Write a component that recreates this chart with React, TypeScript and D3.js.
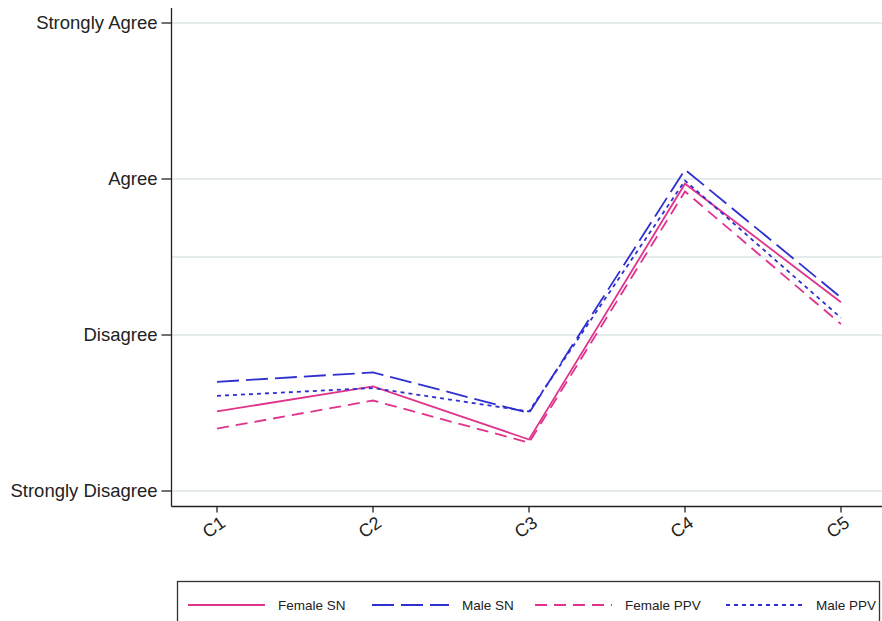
import React from "react";
import * as d3 from "d3";

const categories = ["C1", "C2", "C3", "C4", "C5"];
const yTickValues = [1, 2, 3, 4];
const yTickLabels = ["Strongly Disagree", "Disagree", "Agree", "Strongly Agree"];
const gridValues = [1, 2, 2.5, 3, 4];

const femaleSN = [1.51, 1.67, 1.33, 2.97, 2.21];
const maleSN = [1.70, 1.76, 1.50, 3.06, 2.24];
const femalePPV = [1.40, 1.58, 1.31, 2.92, 2.07];
const malePPV = [1.61, 1.66, 1.51, 2.99, 2.11];

const PINK = "#e0338c";
const BLUE = "#2f2fd0";

const series = [
  { name: "Female SN", values: femaleSN, color: PINK, dash: "" },
  { name: "Male SN", values: maleSN, color: BLUE, dash: "22,7" },
  { name: "Female PPV", values: femalePPV, color: PINK, dash: "12,7" },
  { name: "Male PPV", values: malePPV, color: BLUE, dash: "4,4" },
];

export default function App() {
  const W = 882;
  const H = 621;
  const axisX = 171.5;
  const axisY = 506.5;
  const x = d3.scalePoint<string>().domain(categories).range([217, 841]);
  const y = d3.scaleLinear().domain([1, 4]).range([491, 23]);
  const line = d3
    .line<number>()
    .x((_, i) => x(categories[i]) as number)
    .y((d) => y(d));

  const font = "Liberation Sans, Arial, Helvetica, sans-serif";
  const legendX = [188, 372, 535, 726];

  return (
    <svg
      width={W}
      height={H}
      style={{ position: "absolute", left: 0, top: 0, background: "#fff" }}
      fontFamily={font}
    >
      {gridValues.map((v) => (
        <line
          key={"g" + v}
          x1={axisX}
          x2={W}
          y1={y(v)}
          y2={y(v)}
          stroke="#dde4e4"
          strokeWidth={1.3}
        />
      ))}
      <line x1={axisX} x2={axisX} y1={8} y2={axisY} stroke="#222" strokeWidth={1.3} />
      <line x1={axisX} x2={W} y1={axisY} y2={axisY} stroke="#222" strokeWidth={1.3} />
      {yTickValues.map((v, i) => (
        <g key={"yt" + v}>
          <line x1={axisX - 10} x2={axisX} y1={y(v)} y2={y(v)} stroke="#222" strokeWidth={1.3} />
          <text
            x={axisX - 14}
            y={y(v)}
            dy="0.35em"
            textAnchor="end"
            fontSize={18.5}
            fill="#222"
          >
            {yTickLabels[i]}
          </text>
        </g>
      ))}
      {categories.map((c) => {
        const cx = x(c) as number;
        return (
          <g key={"xt" + c}>
            <line x1={cx} x2={cx} y1={axisY} y2={axisY + 6} stroke="#222" strokeWidth={1.3} />
            <text
              transform={`translate(${cx + 2},${axisY + 8}) rotate(-35)`}
              textAnchor="end"
              dy="0.75em"
              fontSize={18}
              fill="#222"
            >
              {c}
            </text>
          </g>
        );
      })}
      {series.map((s) => (
        <path
          key={s.name}
          d={line(s.values) as string}
          fill="none"
          stroke={s.color}
          strokeWidth={1.8}
          strokeDasharray={s.dash || undefined}
        />
      ))}
      <rect x={177.5} y={581.5} width={702} height={50} fill="#fff" stroke="#333" strokeWidth={1.3} />
      {series.map((s, i) => (
        <g key={"lg" + s.name}>
          <line
            x1={legendX[i]}
            x2={legendX[i] + 77}
            y1={605}
            y2={605}
            stroke={s.color}
            strokeWidth={1.8}
            strokeDasharray={s.dash || undefined}
          />
          <text x={legendX[i] + 90} y={605} dy="0.35em" fontSize={13.5} fill="#222">
            {s.name}
          </text>
        </g>
      ))}
    </svg>
  );
}
